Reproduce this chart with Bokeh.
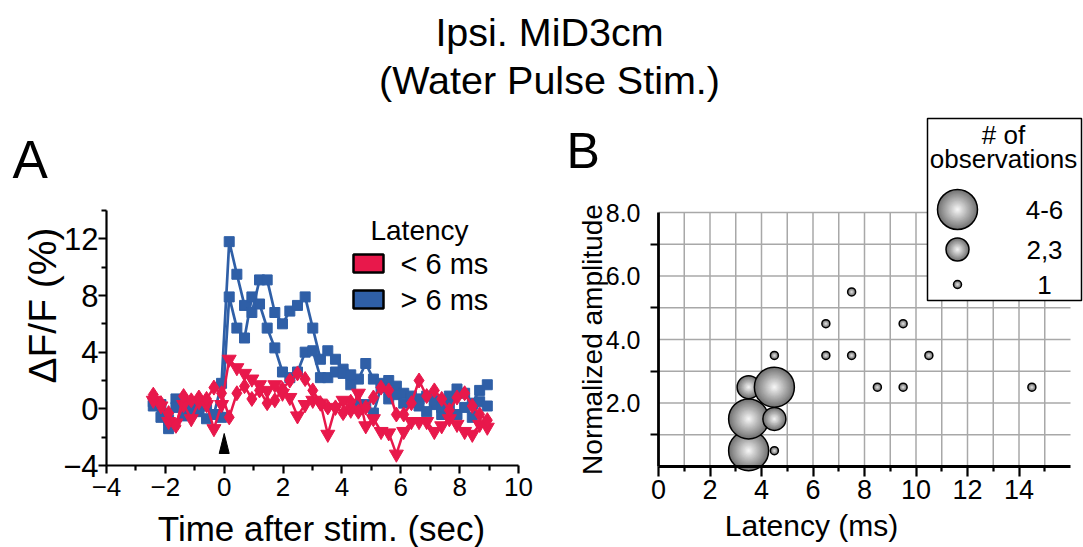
from bokeh.plotting import figure
from bokeh.models import Range1d, FixedTicker, LinearAxis, PrintfTickFormatter
from bokeh.core.properties import value
from bokeh.embed import file_html
from bokeh.resources import INLINE

FONT = "Liberation Sans"
RED = "#E8184B"
BLUE = "#2F5FA7"

# ---------------- data ----------------
title_lines = ["Ipsi. MiD3cm", "(Water Pulse Stim.)"]

time_sec = [-2.41, -2.15, -1.89, -1.64, -1.38, -1.12, -0.86, -0.60, -0.35, -0.09,
            0.17, 0.43, 0.69, 0.94, 1.20, 1.46, 1.72, 1.98, 2.23, 2.49,
            2.75, 3.01, 3.27, 3.52, 3.78, 4.04, 4.30, 4.56, 4.81, 5.07,
            5.33, 5.59, 5.85, 6.10, 6.36, 6.62, 6.88, 7.14, 7.39, 7.65,
            7.91, 8.17, 8.43, 8.68, 8.94]

blue_1 = [0.5, -0.6, -1.4, 0.7, 0.0, -0.3, 0.1, 0.2, -0.4, 1.8,
          11.8, 9.5, 7.3, 6.8, 9.1, 9.1, 6.8, 6.0, 6.9, 7.3,
          7.9, 5.7, 3.5, 4.1, 3.5, 2.8, 1.7, 2.1, 3.2, 2.1,
          1.8, 2.0, 1.6, 1.1, 0.7, 0.7, 0.9, 0.3, -0.4, 0.9,
          1.4, 1.1, 0.4, 1.3, 1.7]
blue_2 = [0.2, 0.3, -0.8, 0.1, -0.5, 0.3, -0.2, -0.7, -0.4, -0.6,
          7.9, 5.7, 5.0, 7.9, 7.4, 5.7, 4.3, 2.6, 2.2, 2.6,
          4.0, 4.1, 2.2, 2.2, 2.6, 2.5, 2.4, 0.3, 0.3, -0.3,
          1.5, 0.7, 1.0, 0.4, 0.9, 0.2, -0.2, 0.6, 0.1, 0.3,
          -0.4, 0.1, -0.6, 0.5, 0.2]
red_1 = [0.6, 0.2, -0.9, -1.0, 0.3, -0.7, 0.5, 0.3, -1.4, 0.3,
         3.5, 2.9, 2.5, 2.1, 1.7, 1.3, 1.7, 1.1, 0.8, -0.5,
         0.3, 0.6, 0.4, -1.8, 0.1, 0.6, -0.1, 1.1, -1.2, -0.7,
         -1.6, -1.7, -3.2, -1.6, -0.9, -0.9, -0.9, -1.6, -1.2, -0.7,
         -1.1, -1.6, -1.8, -1.1, -1.3]
red_2 = [1.0, 0.4, -0.3, -1.2, 0.9, 0.6, 0.8, 0.7, 1.5, 1.1,
         -0.6, 1.1, 1.6, 0.7, 1.3, 0.4, 0.6, 1.4, 2.0, 2.5,
         2.1, 1.3, 0.4, 0.1, 0.1, -0.3, 0.5, -0.2, 0.1, 0.8,
         1.5, 1.3, -0.4, -0.4, 0.4, 2.0, 0.9, 1.3, 0.7, -0.1,
         0.8, 1.1, 0.2, -0.4, -0.8]
stim_time = 0.0

latency_title = "Latency"
latency_labels = ["< 6 ms", "> 6 ms"]
latency_colors = [RED, BLUE]

a_xticks = [-4, -2, 0, 2, 4, 6, 8, 10]
a_xminor = [-3, -1, 1, 3, 5, 7, 9]
a_yticks = [-4, 0, 4, 8, 12]
a_yminor = [-2, 2, 6, 10, 14]

latency_ms = [3.5, 3.5, 3.5, 4.5, 4.5, 4.5, 4.5, 6.5, 6.5, 7.5, 7.5, 8.5, 9.5, 9.5, 10.5, 14.5]
norm_amp = [0.5, 1.5, 2.5, 0.5, 1.5, 2.5, 3.5, 3.5, 4.5, 3.5, 5.5, 2.5, 2.5, 4.5, 3.5, 2.5]
obs_group = ["4-6", "4-6", "2,3", "1", "2,3", "4-6", "1", "1", "1", "1", "1", "1", "1", "1", "1", "1"]
obs_legend_title = ["# of", "observations"]
obs_legend_groups = ["4-6", "2,3", "1"]

b_xticks = [0, 2, 4, 6, 8, 10, 12, 14]
b_xminor = [1, 3, 5, 7, 9, 11, 13, 15]
b_yticks = [2, 4, 6, 8]
b_yminor = [1, 3, 5, 7]
b_gridx = list(range(1, 16))
b_gridy = list(range(1, 9))

# ---------------- layout constants (page pixels) ----------------
PAGE_W, PAGE_H = 1083, 547
A_X = (-4, 10)
A_Y = (-4, 14)
A_L, A_R, A_T, A_B = 106, 518, 210, 465
B_X = (0, 16)
B_Y = (0, 8)
B_L, B_R, B_T, B_B = 658, 1070, 212, 466
SPHERE_D = {"4-6": 40, "2,3": 23, "1": 8}
SPHERE_N = {"4-6": 22, "2,3": 14, "1": 4}


def page_range_x(v0, v1, p0, p1):
    k = (v1 - v0) / (p1 - p0)
    return Range1d(v0 - p0 * k, v0 + (PAGE_W - p0) * k)


def page_range_y(vbot, vtop, pbot, ptop):
    k = (vtop - vbot) / (ptop - pbot)
    return Range1d(vbot + (PAGE_H - pbot) * k, vbot + (0 - pbot) * k)


def a_y(py):
    return A_Y[0] + (py - A_B) * (A_Y[1] - A_Y[0]) / (A_T - A_B)


def style_axis(a, font_size, width=2.2):
    a.axis_line_width = width
    a.axis_line_color = "black"
    a.major_tick_line_width = 2.2
    a.minor_tick_line_width = 2.2
    a.major_tick_in = 0
    a.minor_tick_in = 0
    a.major_label_text_font = FONT
    a.major_label_text_font_size = font_size
    a.major_label_text_color = "black"


p = figure(width=PAGE_W, height=PAGE_H, x_range=Range1d(0, PAGE_W), y_range=Range1d(PAGE_H, 0),
           x_axis_type=None, y_axis_type=None, output_backend="svg", toolbar_location=None,
           min_border=0)
p.outline_line_color = None
p.extra_x_ranges = {"ax": page_range_x(A_X[0], A_X[1], A_L, A_R),
                    "bx": page_range_x(B_X[0], B_X[1], B_L, B_R)}
p.extra_y_ranges = {"ay": page_range_y(A_Y[0], A_Y[1], A_B, A_T),
                    "by": page_range_y(B_Y[0], B_Y[1], B_B, B_T)}

A = dict(x_range_name="ax", y_range_name="ay")
B = dict(x_range_name="bx", y_range_name="by")

# ---------------- title ----------------
p.text(x=[549, 549], y=[31, 79], text=title_lines, text_font=value(FONT),
       text_font_size=value("39.5px"), text_align="center", text_baseline="middle",
       text_color="black")

# ---------------- panel A ----------------
xa = LinearAxis(fixed_location=A_Y[0], bounds=A_X,
                ticker=FixedTicker(ticks=a_xticks, minor_ticks=a_xminor), **A)
style_axis(xa, "26px")
xa.major_tick_out = 8
xa.minor_tick_out = 5
xa.major_label_standoff = 4
p.add_layout(xa, "below")

ya = LinearAxis(fixed_location=A_X[0], bounds=A_Y,
                ticker=FixedTicker(ticks=a_yticks, minor_ticks=a_yminor), **A)
style_axis(ya, "31px")
ya.major_tick_out = 8
ya.minor_tick_out = 5
ya.major_label_standoff = 0
p.add_layout(ya, "left")

for ys in (blue_1, blue_2):
    p.line(time_sec, ys, line_color=BLUE, line_width=2.7, **A)
    p.scatter(time_sec, ys, marker="square", size=10, fill_color=BLUE, line_color=BLUE, **A)
for ys, mk, sz in ((red_1, "inverted_triangle", 14), (red_2, "diamond", 15)):
    p.line(time_sec, ys, line_color=RED, line_width=2.5, **A)
    p.scatter(time_sec, ys, marker=mk, size=sz, fill_color=RED, line_color=RED, **A)

p.patch([stim_time - 0.17, stim_time + 0.17, stim_time], [a_y(453), a_y(453), a_y(433)],
        fill_color="black", line_color="black", **A)

# legend A (page pixels)
p.text(x=[419], y=[230], text=[latency_title], text_font=value(FONT),
       text_font_size=value("28px"), text_align="center", text_baseline="middle")
p.rect(x=[368, 368], y=[263, 299], width=30, height=18, width_units="screen",
       height_units="screen", fill_color=latency_colors, line_color="black", line_width=2.5)
p.text(x=[400, 400], y=[263, 299], text=latency_labels, text_font=value(FONT),
       text_font_size=value("29px"), text_align="left", text_baseline="middle")

p.text(x=[12], y=[159], text=["A"], text_font=value(FONT), text_font_size=value("53px"),
       text_align="left", text_baseline="middle")
p.text(x=[42], y=[305], text=["ΔF/F (%)"], text_font=value(FONT), text_font_size=value("39px"),
       text_align="center", text_baseline="middle", angle=1.5708)
p.text(x=[321], y=[528], text=["Time after stim. (sec)"], text_font=value(FONT),
       text_font_size=value("35px"), text_align="center", text_baseline="middle")

# ---------------- panel B ----------------
p.segment(x0=b_gridx, y0=B_Y[0], x1=b_gridx, y1=B_Y[1], line_color="#a8a8a8", line_width=1.5, **B)
p.segment(x0=B_X[0], y0=b_gridy, x1=B_X[1], y1=b_gridy, line_color="#a8a8a8", line_width=1.5, **B)

xb = LinearAxis(fixed_location=B_Y[0], bounds=B_X,
                ticker=FixedTicker(ticks=b_xticks, minor_ticks=b_xminor), **B)
style_axis(xb, "27px", 2.8)
xb.major_tick_out = 10
xb.minor_tick_out = 5
xb.major_label_standoff = 3
p.add_layout(xb, "below")

yb = LinearAxis(fixed_location=B_X[0], bounds=B_Y,
                ticker=FixedTicker(ticks=b_yticks, minor_ticks=b_yminor), **B)
yb.formatter = PrintfTickFormatter(format="%.1f")
style_axis(yb, "25px", 2.8)
yb.major_tick_out = 0
yb.minor_tick_out = 8
yb.major_label_standoff = 10
p.add_layout(yb, "left")


def sphere(x, y, group, ranges):
    d = SPHERE_D[group]
    n = SPHERE_N[group]
    sizes, colors = [], []
    for i in range(n):
        r = 1 - i / n
        L = int(round(250 - 135 * r))
        sizes.append(d * r)
        colors.append("#%02x%02x%02x" % (L, L, L))
    p.scatter(x=[x] * n, y=[y] * n, size=sizes, fill_color=colors, line_color=None, **ranges)
    p.scatter(x=[x], y=[y], size=d, fill_alpha=0, line_color="black", line_width=1.5, **ranges)


for xv, yv, g in zip(latency_ms, norm_amp, obs_group):
    sphere(xv, yv, g, B)

# legend B (page pixels)
p.quad(left=[927], right=[1081], top=[118], bottom=[300],
       fill_color="white", line_color="black", line_width=1.5)
p.text(x=[1003, 1003], y=[134, 158], text=obs_legend_title, text_font=value(FONT),
       text_font_size=value("26px"), text_align="center", text_baseline="middle")
leg_b_rows = [209, 249, 284]
for g, yv in zip(obs_legend_groups, leg_b_rows):
    sphere(957, yv, g, {})
p.text(x=[1044] * 3, y=leg_b_rows, text=obs_legend_groups, text_font=value(FONT),
       text_font_size=value("26px"), text_align="center", text_baseline="middle")

p.text(x=[566], y=[150], text=["B"], text_font=value(FONT), text_font_size=value("50px"),
       text_align="left", text_baseline="middle")
p.text(x=[592], y=[339], text=["Normalized amplitude"], text_font=value(FONT),
       text_font_size=value("28px"), text_align="center", text_baseline="middle", angle=1.5708)
p.text(x=[811], y=[525], text=["Latency (ms)"], text_font=value(FONT),
       text_font_size=value("30px"), text_align="center", text_baseline="middle")

open("out.html", "w").write(file_html(p, INLINE))
